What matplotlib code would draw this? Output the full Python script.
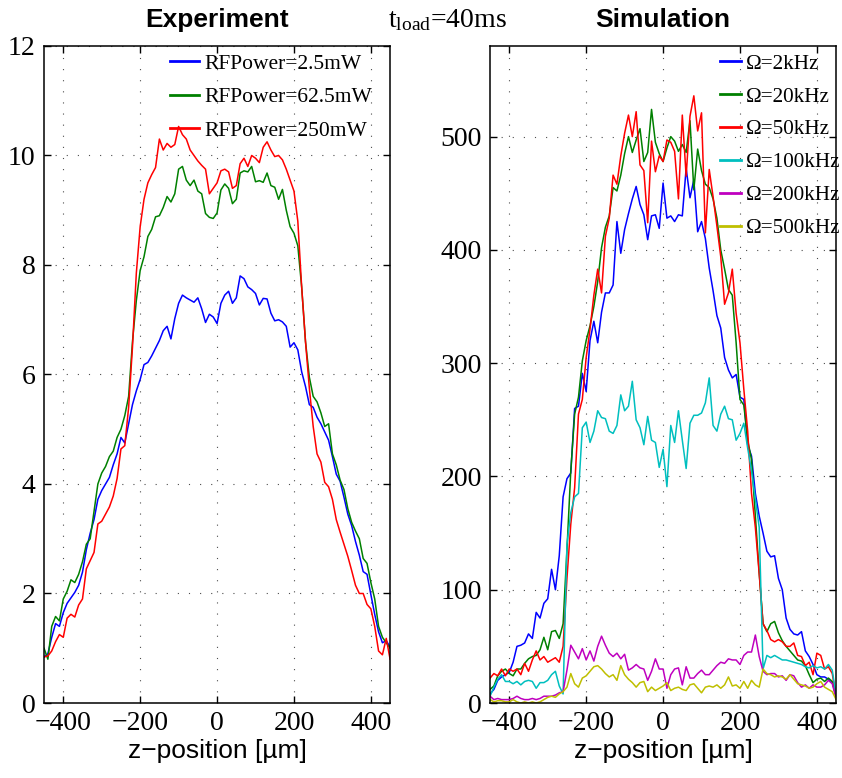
import numpy as np
import matplotlib.pyplot as plt

plt.rcParams['font.family'] = 'Liberation Serif'
plt.rcParams['mathtext.fontset'] = 'custom'
plt.rcParams['mathtext.rm'] = 'Liberation Serif'
plt.rcParams['mathtext.it'] = 'Liberation Serif:italic'

# z positions in um (10 um steps)
z = np.arange(-450, 451, 10)

# Experiment: fluorescence profiles for three RF powers
exp_2p5mW = [0.84, 0.9, 1.2, 1.45, 1.4, 1.65, 1.82, 1.92, 2.02, 2.15,
             2.39, 2.8, 3.1, 3.35, 3.72, 3.88, 4.0, 4.12, 4.35, 4.55,
             4.85, 4.75, 5.1, 5.45, 5.7, 5.91, 6.18, 6.22, 6.34, 6.48,
             6.62, 6.8, 6.88, 6.65, 7.02, 7.3, 7.45, 7.4, 7.36, 7.32,
             7.4, 7.2, 6.95, 7.1, 7.05, 6.93, 7.3, 7.45, 7.52, 7.3,
             7.4, 7.8, 7.75, 7.6, 7.55, 7.48, 7.27, 7.39, 7.38, 7.12,
             6.98, 7.0, 6.96, 6.88, 6.5, 6.58, 6.45, 6.05, 5.78, 5.45,
             5.4, 5.22, 5.1, 4.95, 4.8, 4.5, 4.18, 4.05, 3.76, 3.45,
             3.24, 2.95, 2.7, 2.4, 2.35, 1.98, 1.62, 1.3, 1.1, 1.14,
             1.02]
exp_62p5mW = [1.0, 0.8, 1.4, 1.58, 1.5, 1.9, 2.04, 2.25, 2.2, 2.35,
              2.58, 2.9, 3.0, 3.5, 4.0, 4.2, 4.32, 4.5, 4.6, 4.85,
              5.0, 5.25, 5.6, 6.6, 7.35, 7.9, 8.15, 8.52, 8.65, 8.88,
              8.9, 9.05, 9.25, 9.15, 9.3, 9.75, 9.8, 9.55, 9.45, 9.55,
              9.35, 9.3, 8.94, 8.87, 8.85, 8.95, 9.37, 9.48, 9.4, 9.12,
              9.2, 9.68, 9.72, 9.7, 9.8, 9.52, 9.54, 9.51, 9.68, 9.45,
              9.42, 9.2, 9.38, 9.0, 8.7, 8.58, 8.35, 7.6, 6.6, 5.95,
              5.6, 5.5, 5.3, 5.05, 5.1, 4.55, 4.35, 4.07, 3.9, 3.55,
              3.3, 3.14, 3.0, 2.64, 2.55, 2.2, 1.9, 1.4, 1.2, 1.1,
              1.0]
exp_250mW = [0.84, 0.86, 0.95, 1.12, 1.25, 1.2, 1.55, 1.62, 1.57, 1.79,
             1.9, 2.45, 2.6, 2.75, 3.27, 3.32, 3.45, 3.58, 3.78, 4.1,
             4.64, 4.7, 5.4, 6.5, 7.85, 8.7, 9.2, 9.5, 9.65, 9.78,
             10.3, 10.1, 10.22, 10.15, 10.2, 10.53, 10.38, 10.3, 10.1, 10.0,
             9.9, 9.82, 9.75, 9.3, 9.4, 9.5, 9.72, 9.75, 9.7, 9.4,
             9.45, 9.85, 9.95, 9.8, 10.0, 9.95, 9.87, 10.15, 10.25, 10.1,
             9.98, 10.0, 9.92, 9.75, 9.55, 9.35, 8.8, 7.6, 6.6, 5.75,
             5.05, 4.55, 4.4, 4.03, 3.95, 3.72, 3.35, 3.12, 2.9, 2.68,
             2.42, 2.15, 2.0, 2.0, 1.8, 1.72, 1.4, 0.95, 0.88, 1.18,
             0.8]

# Simulation: profiles for six drive frequencies
sim_2kHz = [8, 12, 20, 23, 25, 27, 36, 50, 51, 53,
            61, 57, 80, 75, 88, 92, 118, 100, 130, 182,
            198, 203, 260, 262, 291, 275, 320, 337, 318, 345,
            362, 362, 369, 425, 397, 418, 432, 445, 456, 440,
            431, 409, 430, 431, 419, 459, 428, 430, 425, 431,
            430, 472, 446, 462, 416, 425, 410, 384, 364, 342,
            331, 305, 294, 287, 290, 270, 268, 228, 218, 185,
            165, 150, 134, 129, 130, 110, 100, 75, 65, 61,
            60, 63, 46, 41, 34, 25, 23, 23, 21, 18,
            7]
sim_20kHz = [12, 15, 24, 28, 30, 26, 24, 30, 30, 35,
             39, 41, 42, 47, 58, 47, 63, 64, 57, 70,
             135, 205, 255, 270, 302, 320, 333, 350, 372, 402,
             420, 430, 455, 452, 466, 485, 500, 486, 497, 507,
             478, 486, 524, 495, 485, 478, 490, 500, 496, 487,
             493, 486, 514, 453, 489, 470, 458, 455, 445, 428,
             400, 383, 365, 360, 318, 268, 263, 232, 215, 165,
             115, 70, 63, 70, 72, 62, 55, 50, 46, 42,
             38, 37, 33, 25, 18, 21, 22, 19, 22, 19,
             5]
sim_50kHz = [22, 26, 24, 30, 24, 30, 28, 30, 25, 35,
             28, 38, 46, 38, 41, 36, 38, 40, 36, 50,
             110, 158, 190, 255, 268, 305, 330, 360, 383, 362,
             412, 428, 466, 458, 483, 503, 519, 500, 522, 475,
             470, 424, 496, 469, 483, 478, 497, 495, 487, 445,
             519, 465, 518, 536, 505, 521, 415, 471, 447, 421,
             394, 352, 362, 383, 344, 318, 277, 240, 185, 155,
             114, 70, 64, 56, 54, 56, 54, 50, 50, 53,
             42, 41, 33, 36, 25, 44, 42, 30, 32, 26,
             5]
sim_100kHz = [6, 14, 21, 25, 19, 19, 17, 19, 16, 19,
              20, 19, 13, 18, 18, 20, 25, 28, 15, 8,
              140, 168, 182, 185, 243, 248, 230, 240, 258, 252,
              251, 240, 238, 245, 272, 258, 262, 284, 250, 243,
              228, 253, 232, 230, 208, 224, 191, 245, 230, 258,
              232, 207, 247, 254, 254, 256, 265, 287, 245, 240,
              255, 262, 251, 250, 232, 238, 247, 225, 205, 180,
              155, 30, 42, 40, 42, 40, 38, 38, 37, 36,
              35, 34, 32, 31, 33, 31, 32, 30, 34, 29,
              6]
sim_200kHz = [6, 3, 4, 3, 3, 3, 4, 6, 4, 3,
              3, 4, 3, 4, 6, 6, 6, 7, 9, 10,
              29, 51, 45, 39, 48, 38, 46, 37, 50, 59,
              51, 44, 41, 44, 39, 43, 29, 31, 34, 31,
              30, 20, 28, 39, 30, 30, 13, 25, 30, 31,
              16, 32, 22, 22, 26, 29, 25, 25, 29, 33,
              36, 35, 39, 38, 38, 34, 42, 45, 45, 60,
              41, 28, 25, 26, 26, 23, 24, 20, 25, 24,
              18, 14, 16, 13, 16, 14, 14, 16, 20, 17,
              4]
sim_500kHz = [3, 1, 2, 2, 1, 1, 3, 1, 0, 1,
              0, 1, 0, 1, 3, 5, 6, 5, 8, 10,
              14, 26, 17, 14, 22, 24, 28, 32, 33, 30,
              26, 23, 25, 20, 33, 25, 21, 18, 14, 18,
              19, 10, 14, 11, 13, 15, 18, 11, 13, 14,
              12, 11, 16, 17, 13, 9, 14, 15, 14, 16,
              13, 16, 23, 15, 16, 13, 19, 13, 20, 16,
              14, 30, 26, 25, 23, 24, 23, 21, 25, 21,
              17, 16, 15, 13, 14, 17, 19, 14, 12, 10,
              3]

exp_series = [exp_2p5mW, exp_62p5mW, exp_250mW]
exp_labels = ['RFPower=2.5mW', 'RFPower=62.5mW', 'RFPower=250mW']
sim_series = [sim_2kHz, sim_20kHz, sim_50kHz, sim_100kHz, sim_200kHz, sim_500kHz]
sim_labels = ['Ω=2kHz', 'Ω=20kHz', 'Ω=50kHz', 'Ω=100kHz', 'Ω=200kHz', 'Ω=500kHz']

# matlab-like line colours b, g, r, c, m, y
colors = ['#0000ff', '#008000', '#ff0000', '#00bfbf', '#bf00bf', '#bfbf00']


def style_axes(ax, ylim, yticks):
    ax.set_xlim(-450, 450)
    ax.set_ylim(*ylim)
    ax.set_xticks([-400, -200, 0, 200, 400])
    ax.set_yticks(yticks)
    ax.tick_params(direction='in', top=True, right=True, length=5, width=1,
                   labelsize=20, pad=6)
    ax.grid(True, linestyle=(0, (1, 9)), color='0.3', linewidth=0.8)
    for sp in ax.spines.values():
        sp.set_linewidth(1.1)
    ax.set_xlabel('z\u2212position [\u00b5m]', family='Liberation Sans',
                  fontsize=19, labelpad=2)


def add_legend(ax, x0, hlen, fsize):
    leg = ax.legend(loc='upper left', bbox_to_anchor=(x0, 0.988),
                    frameon=False, fontsize=fsize, handlelength=hlen,
                    handletextpad=0.25, labelspacing=0.62, borderpad=0,
                    borderaxespad=0)
    for ln in leg.get_lines():
        ln.set_linewidth(2.0)
    return leg


fig = plt.figure(figsize=(8.42, 7.78), dpi=100)

# left panel: experiment
ax1 = fig.add_axes([0.0523, 0.0964, 0.411, 0.8445])
for y, c, lab in zip(exp_series, colors[:3], exp_labels):
    ax1.plot(z, y, color=c, linewidth=1.1, label=lab)
style_axes(ax1, (0, 12), range(0, 13, 2))
ax1.set_title('Experiment', family='Liberation Sans', fontweight='bold',
              fontsize=19, pad=14)
add_legend(ax1, 0.364, 1.35, 15.5)

# right panel: simulation
ax2 = fig.add_axes([0.582, 0.0964, 0.411, 0.8445])
for y, c, lab in zip(sim_series, colors, sim_labels):
    ax2.plot(z, y, color=c, linewidth=1.1, label=lab)
style_axes(ax2, (0, 580), range(0, 501, 100))
ax2.set_title('Simulation', family='Liberation Sans', fontweight='bold',
              fontsize=19, pad=14)
add_legend(ax2, 0.664, 1.0, 15.2)

fig.text(0.531, 1 - 27 / 778, r'$\mathrm{t_{load}}$=40ms', ha='center',
         va='baseline', fontsize=20)

fig.savefig('out.png', dpi=100)
